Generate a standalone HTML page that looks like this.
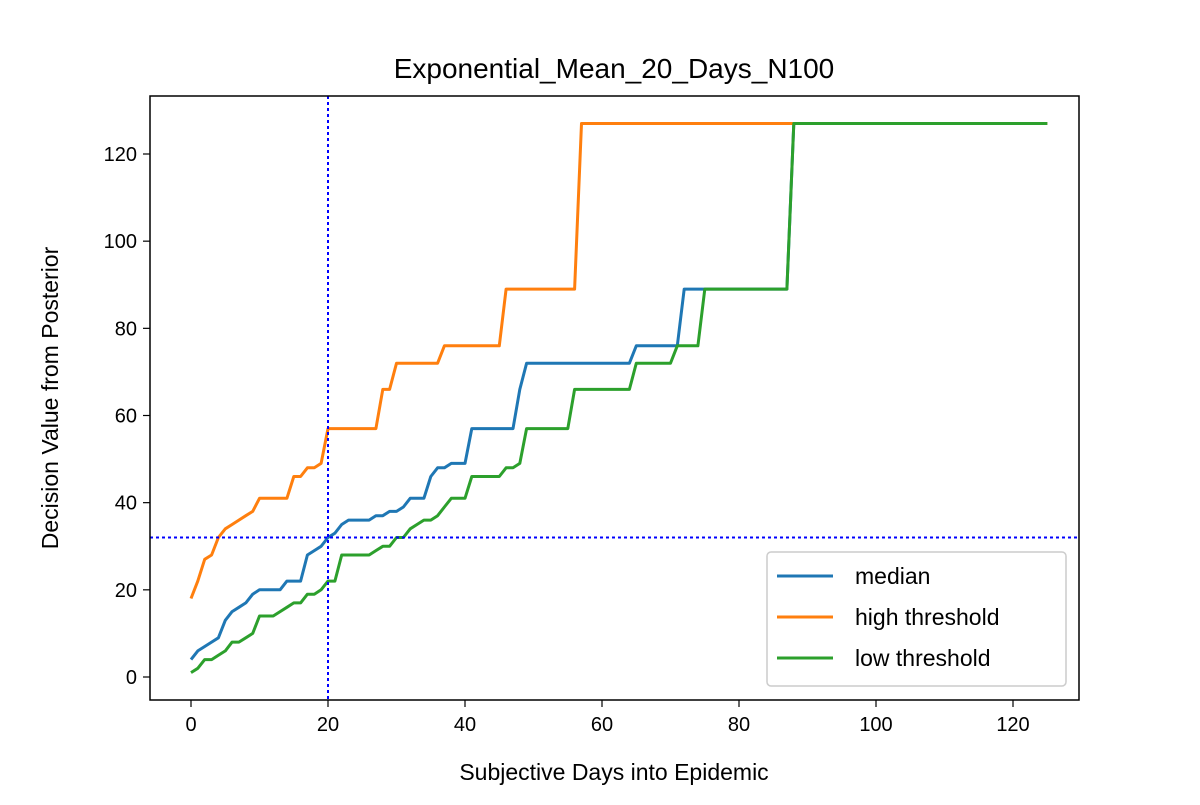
<!DOCTYPE html>
<html><head><meta charset="utf-8"><style>
body{margin:0;background:#fff;}
svg text{font-family:"Liberation Sans","DejaVu Sans",sans-serif;fill:#000;}
</style></head><body>
<svg id="chart" width="1200" height="800" xmlns="http://www.w3.org/2000/svg">
<rect width="1200" height="800" fill="#fff"/>
<text x="614" y="78" font-size="28" text-anchor="middle">Exponential_Mean_20_Days_N100</text>
<g id="plot"></g>
<text x="614" y="780" font-size="23" text-anchor="middle">Subjective Days into Epidemic</text>
<text transform="translate(58,398) rotate(-90)" font-size="23" text-anchor="middle">Decision Value from Posterior</text>
</svg>
<script>
const xTicks=[0,20,40,60,80,100,120];
const yTicks=[0,20,40,60,80,100,120];
const seriesNames=["median","high threshold","low threshold"];
const seriesColors=["#1f77b4","#ff7f0e","#2ca02c"];
const refX=20;
const refY=32;
const median=[4,6,7,8,9,13,15,16,17,19,
20,20,20,20,22,22,22,28,29,30,
32,33,35,36,36,36,36,37,37,38,
38,39,41,41,41,46,48,48,49,49,
49,57,57,57,57,57,57,57,66,72,
72,72,72,72,72,72,72,72,72,72,
72,72,72,72,72,76,76,76,76,76,
76,76,89,89,89,89,89,89,89,89,
89,89,89,89,89,89,89,89,127,127,
127,127,127,127,127,127,127,127,127,127,
127,127,127,127,127,127,127,127,127,127,
127,127,127,127,127,127,127,127,127,127,
127,127,127,127,127,127];
const high=[18,22,27,28,32,34,35,36,37,38,
41,41,41,41,41,46,46,48,48,49,
57,57,57,57,57,57,57,57,66,66,
72,72,72,72,72,72,72,76,76,76,
76,76,76,76,76,76,89,89,89,89,
89,89,89,89,89,89,89,127,127,127,
127,127,127,127,127,127,127,127,127,127,
127,127,127,127,127,127,127,127,127,127,
127,127,127,127,127,127,127,127,127,127,
127,127,127,127,127,127,127,127,127,127,
127,127,127,127,127,127,127,127,127,127,
127,127,127,127,127,127,127,127,127,127,
127,127,127,127,127,127];
const low=[1,2,4,4,5,6,8,8,9,10,
14,14,14,15,16,17,17,19,19,20,
22,22,28,28,28,28,28,29,30,30,
32,32,34,35,36,36,37,39,41,41,
41,46,46,46,46,46,48,48,49,57,
57,57,57,57,57,57,66,66,66,66,
66,66,66,66,66,72,72,72,72,72,
72,76,76,76,76,89,89,89,89,89,
89,89,89,89,89,89,89,89,127,127,
127,127,127,127,127,127,127,127,127,127,
127,127,127,127,127,127,127,127,127,127,
127,127,127,127,127,127,127,127,127,127,
127,127,127,127,127,127];

const NS="http://www.w3.org/2000/svg";
const L=150,R=1079,T=96,B=700;
const X=v=>191+v*6.85;
const Y=v=>677-v*(523/120);
const g=document.getElementById('plot');
function mk(t,a){const e=document.createElementNS(NS,t);for(const k in a)e.setAttribute(k,a[k]);g.appendChild(e);return e;}

xTicks.forEach(t=>{
  const l=mk('line',{x1:X(t),x2:X(t),y1:B,y2:B+7,stroke:'#000','stroke-width':1.2});
  
  
  const s=mk('text',{x:X(t),y:B+31,'font-size':20,'text-anchor':'middle'});s.textContent=t;
  
  
});
yTicks.forEach(t=>{
  const l=mk('line',{x1:L-7,x2:L,y1:Y(t),y2:Y(t),stroke:'#000','stroke-width':1.2});
  
  
  const s=mk('text',{x:L-13,y:Y(t)+7,'font-size':20,'text-anchor':'end'});s.textContent=t;
  
  
});

const data=[median,high,low];
[0,1,2].forEach(i=>{
  const pts=data[i].map((v,d)=>X(d).toFixed(1)+','+Y(v).toFixed(1)).join(' ');
  const p=mk('polyline',{points:pts,fill:'none',stroke:seriesColors[i],'stroke-width':3,'stroke-linejoin':'round'});
  
  
});

const vx=mk('line',{x1:X(refX),x2:X(refX),y1:T,y2:B,stroke:'#0000ff','stroke-width':2,'stroke-dasharray':'3,3'});


const hy=mk('line',{x1:L,x2:R,y1:Y(refY),y2:Y(refY),stroke:'#0000ff','stroke-width':2,'stroke-dasharray':'3,3'});



const frame=mk('rect',{x:L,y:T,width:R-L,height:B-T,fill:'none',stroke:'#000','stroke-width':1.5});



const lg=mk('rect',{x:767,y:552,width:299,height:134,rx:4,fill:'#fff','fill-opacity':0.8,stroke:'#ccc','stroke-width':1.5});


seriesNames.forEach((n,i)=>{
  const y=576+i*41;
  const l=mk('line',{x1:777,x2:833,y1:y,y2:y,stroke:seriesColors[i],'stroke-width':3});
  
  
  const s=mk('text',{x:855,y:y+8,'font-size':23});s.textContent=n;
  
  
});
</script>
</body></html>
